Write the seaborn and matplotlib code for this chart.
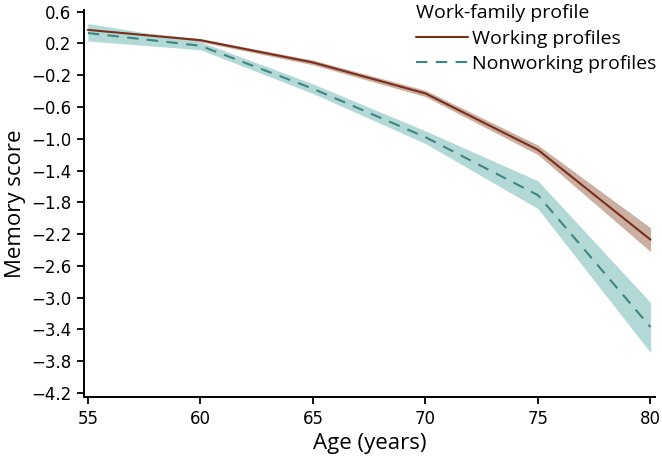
import matplotlib
matplotlib.use("Agg")
import matplotlib.pyplot as plt
import seaborn as sns
import pandas as pd

# values
ages = [55, 60, 65, 70, 75, 80]
working_mean = [0.37, 0.24, -0.04, -0.43, -1.14, -2.27]
working_lo = [0.34, 0.22, -0.07, -0.47, -1.20, -2.42]
working_hi = [0.40, 0.26, -0.01, -0.39, -1.08, -2.12]
nonworking_mean = [0.33, 0.17, -0.37, -0.98, -1.71, -3.37]
nonworking_lo = [0.23, 0.12, -0.43, -1.06, -1.88, -3.69]
nonworking_hi = [0.45, 0.22, -0.31, -0.90, -1.53, -3.06]

y_ticks = [0.6, 0.2, -0.2, -0.6, -1.0, -1.4, -1.8, -2.2, -2.6, -3.0, -3.4, -3.8, -4.2]

work_line = "#7a2e1c"
work_band = "#cbafa1"
non_line = "#3f8583"
non_band = "#b2d9d6"

sns.set_style("ticks")
plt.rcParams["font.family"] = ["Open Sans", "DejaVu Sans"]
plt.rcParams["text.color"] = "black"
plt.rcParams["axes.labelcolor"] = "black"

df = pd.DataFrame({
    "age": ages * 2,
    "score": working_mean + nonworking_mean,
    "profile": ["Working profiles"] * len(ages) + ["Nonworking profiles"] * len(ages),
})

fig = plt.figure(figsize=(6.62, 4.63), dpi=100)
ax = fig.add_axes([0.1269, 0.1425, 0.8625, 0.8359])

# confidence bands
ax.fill_between(ages, working_lo, working_hi, color=work_band, linewidth=0)
ax.fill_between(ages, nonworking_lo, nonworking_hi, color=non_band, linewidth=0)

sns.lineplot(data=df, x="age", y="score", hue="profile", style="profile",
             palette={"Working profiles": work_line, "Nonworking profiles": non_line},
             dashes={"Working profiles": "", "Nonworking profiles": (5.5, 4)},
             linewidth=1.5, ax=ax)

ax.set_xlim(54.83, 80.2)
ax.set_ylim(-4.25, 0.62)
ax.set_xticks(ages)
ax.set_yticks(y_ticks)
ax.set_yticklabels([f"{v:.1f}".replace("-", "\u2212") for v in y_ticks])
ax.tick_params(length=5, width=1.3, colors="black", pad=4,
               labelsize=12, labelfontfamily="DejaVu Sans")
ax.set_xlabel("Age (years)", fontsize=16, labelpad=4)
ax.set_ylabel("Memory score", fontsize=16, labelpad=4)
for s in ["left", "bottom"]:
    ax.spines[s].set_linewidth(1.4)
    ax.spines[s].set_color("black")
sns.despine(ax=ax)

handles, labels = ax.get_legend_handles_labels()
leg = ax.legend(handles, labels, title="Work-family profile", loc="upper right",
                frameon=False, fontsize=14, handlelength=2.7,
                borderpad=0.1, borderaxespad=0.0, labelspacing=0.35,
                handletextpad=0.2, bbox_to_anchor=(0.995, 0.996),
                bbox_transform=fig.transFigure)
leg.get_title().set_fontsize(14)
leg.get_title().set_color("black")
leg._legend_box.align = "left"
leg._legend_box.sep = 6

fig.savefig("out.png", dpi=100, facecolor="white")
